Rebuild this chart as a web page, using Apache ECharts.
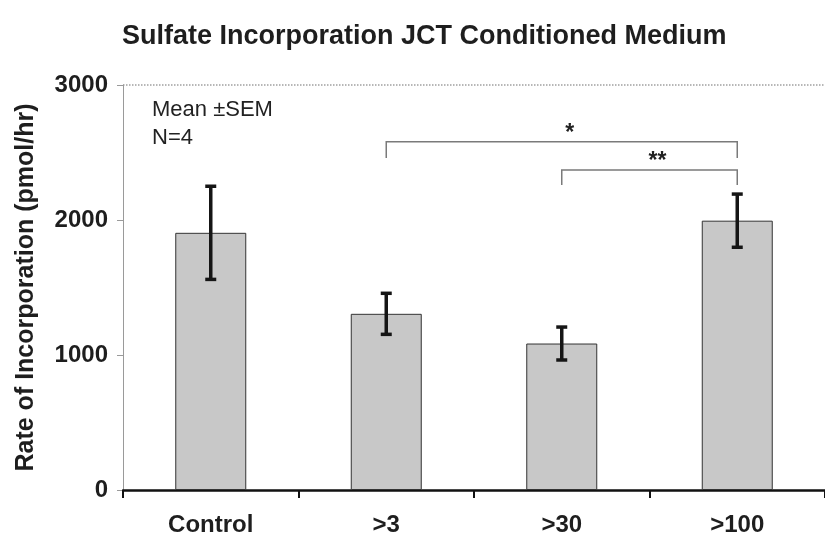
<!DOCTYPE html>
<html>
<head>
<meta charset="utf-8">
<script src="https://cdn.jsdelivr.net/npm/echarts@6/dist/echarts.min.js"></script>
<style>
  html, body { margin: 0; padding: 0; background: #fff; }
  #chart { width: 825px; height: 540px; }
</style>
</head>
<body>
<div id="chart"></div>
<script>
// Sulfate incorporation rate per medium fraction (mean ± SEM, N=4)
const categories = ['Control', '>3', '>30', '>100'];
const means = [1905, 1305, 1085, 1995];
const sems = [345, 152, 122, 197];
const yTicks = [0, 1000, 2000, 3000];

// Significance brackets: from category index, to category index, bar level, leg end, mark
const bracketFrom = [1, 2];
const bracketTo = [3, 3];
const bracketLevel = [2580, 2370];
const bracketLegEnd = [2460, 2260];
const bracketMarks = ['*', '**'];

const FONT = "'Liberation Sans', Arial, sans-serif";
const chart = echarts.init(document.getElementById('chart'), null, { renderer: 'canvas' });

const errorData = means.map((m, i) => [i, m - sems[i], m + sems[i]]);
const bracketData = bracketFrom.map((f, i) => [f, bracketTo[i], bracketLevel[i], bracketLegEnd[i], i]);

chart.setOption({
  animation: false,
  backgroundColor: '#fff',
  title: {
    text: 'Sulfate Incorporation JCT Conditioned Medium',
    left: 117,
    top: 18,
    textStyle: { fontFamily: FONT, fontWeight: 'bold', fontSize: 27, color: '#1e1e1e' }
  },
  graphic: [{
    type: 'text',
    left: 152,
    top: 96,
    style: {
      text: 'Mean ±SEM\nN=4',
      font: '22px ' + FONT,
      lineHeight: 28,
      fill: '#222'
    }
  }],
  grid: { left: 123, right: -6, top: 85, bottom: 50, containLabel: false },
  xAxis: {
    type: 'category',
    data: categories,
    boundaryGap: true,
    axisLine: { lineStyle: { color: '#111', width: 2.5 } },
    axisTick: { show: true, length: 8, lineStyle: { color: '#111', width: 2 } },
    axisLabel: { margin: 23, fontFamily: FONT, fontWeight: 'bold', fontSize: 24, color: '#1e1e1e' }
  },
  yAxis: {
    type: 'value',
    min: yTicks[0],
    max: yTicks[yTicks.length - 1],
    interval: 1000,
    name: 'Rate of Incorporation (pmol/hr)',
    nameLocation: 'middle',
    nameGap: 84,
    nameTextStyle: { fontFamily: FONT, fontWeight: 'bold', fontSize: 25, color: '#1e1e1e' },
    axisLine: { show: true, lineStyle: { color: '#9a9a9a', width: 1 } },
    axisTick: { show: true, length: 6, lineStyle: { color: '#9a9a9a', width: 1 } },
    axisLabel: {
      margin: 15,
      fontFamily: FONT,
      fontWeight: 'bold',
      fontSize: 24,
      color: '#1e1e1e',
      formatter: function (v) { return String(v); }
    },
    splitLine: {
      show: true,
      lineStyle: { color: ['transparent', 'transparent', 'transparent', '#a0a0a0'], width: 1.5, type: 'dotted' }
    }
  },
  series: [
    {
      type: 'bar',
      data: means,
      barWidth: 71,
      itemStyle: { color: '#c8c8c8', borderColor: '#333', borderWidth: 1 },
      z: 2
    },
    {
      type: 'custom',
      data: errorData,
      z: 5,
      renderItem: function (params, api) {
        const x = api.value(0);
        const lo = api.coord([x, api.value(1)]);
        const hi = api.coord([x, api.value(2)]);
        const cap = 5.5;
        const style = { stroke: '#151515', lineWidth: 3.5 };
        return {
          type: 'group',
          children: [
            { type: 'line', shape: { x1: lo[0], y1: lo[1], x2: hi[0], y2: hi[1] }, style: style },
            { type: 'line', shape: { x1: hi[0] - cap, y1: hi[1], x2: hi[0] + cap, y2: hi[1] }, style: style },
            { type: 'line', shape: { x1: lo[0] - cap, y1: lo[1], x2: lo[0] + cap, y2: lo[1] }, style: style }
          ]
        };
      }
    },
    {
      type: 'custom',
      data: bracketData,
      z: 5,
      renderItem: function (params, api) {
        const a = api.coord([api.value(0), api.value(2)]);
        const b = api.coord([api.value(1), api.value(2)]);
        const aEnd = api.coord([api.value(0), api.value(3)]);
        const bEnd = api.coord([api.value(1), api.value(3)]);
        const mark = bracketMarks[api.value(4)];
        return {
          type: 'group',
          children: [
            {
              type: 'polyline',
              shape: { points: [[aEnd[0], aEnd[1]], [a[0], a[1]], [b[0], b[1]], [bEnd[0], bEnd[1]]] },
              style: { stroke: '#7a7a7a', lineWidth: 1.5, fill: null }
            },
            {
              type: 'text',
              x: (a[0] + b[0]) / 2 + 8,
              y: a[1] - 8,
              style: {
                text: mark,
                font: 'bold 23px ' + FONT,
                fill: '#222',
                align: 'center',
                verticalAlign: 'middle'
              }
            }
          ]
        };
      }
    }
  ]
});
</script>
</body>
</html>
